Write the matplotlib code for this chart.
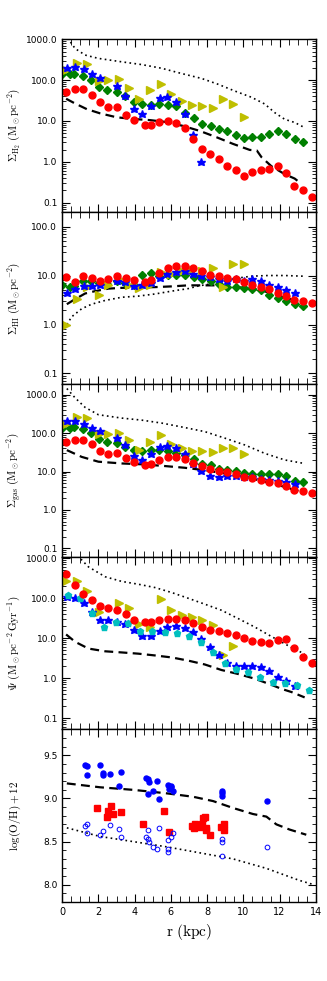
import numpy as np
import matplotlib
matplotlib.use('Agg')
import matplotlib.pyplot as plt
from matplotlib.ticker import MultipleLocator, FormatStrFormatter, LogLocator

plt.rcParams['mathtext.fontset'] = 'cm'
plt.rcParams['font.size'] = 6.5

nan = np.nan

# radial bins for each data set (kpc)
r_red = [0.24, 0.70, 1.16, 1.64, 2.09, 2.55, 3.03, 3.51, 3.96, 4.55, 4.88, 5.36, 5.82, 6.28, 6.76,
         7.24, 7.69, 8.17, 8.63, 9.11, 9.57, 10.02, 10.50, 10.96, 11.42, 11.89, 12.35, 12.81, 13.29, 13.77]
r_green = [0.02, 0.44, 0.68, 1.14, 1.60, 2.02, 2.49, 3.01, 3.49, 3.96, 4.42, 4.90, 5.36, 5.84, 6.29,
           6.76, 7.25, 7.71, 8.19, 8.65, 9.12, 9.58, 10.04, 10.50, 10.96, 11.44, 11.91, 12.37, 12.83, 13.29]
r_star = [0.26, 0.73, 1.19, 1.67, 2.07, 2.53, 3.01, 3.49, 3.96, 4.43, 4.92, 5.38, 5.79, 6.27, 6.76,
          7.22, 7.68, 8.16, 8.63, 9.11, 9.58, 10.04, 10.49, 10.96, 11.44, 11.91, 12.37, 12.85]
r_yel = [0.22, 0.84, 1.39, 2.02, 2.55, 3.12, 3.71, 4.26, 4.86, 5.43, 6.0, 6.59, 7.16, 7.73, 8.30,
         8.87, 9.44, 10.04]
r_cyan = [0.31, 0.99, 1.65, 2.31, 2.97, 3.63, 4.31, 4.97, 5.66, 6.32, 6.98, 7.64, 8.30, 8.96, 9.62,
          10.28, 10.94, 11.62, 12.28, 12.94, 13.62]

# Sigma_H2
h2_red = [52, 61, 59, 44, 28.5, 22.4, 21.9, 14.0, 10.6, 7.8, 7.8, 9.3, 9.8, 8.9, 6.6,
          3.6, 2.1, 1.57, 1.17, 0.80, 0.64, 0.46, 0.56, 0.63, 0.68, 0.79, 0.54, 0.255, 0.21, 0.138]
h2_green = [138, 143, 143, 127, 100, 67, 58, 52, 40, 28.6, 25.5, 24.2, 25.5, 25, 22.8,
            15.5, 11.8, 8.3, 7.6, 6.4, 5.7, 4.6, 3.9, 4.0, 4.0, 4.7, 5.6, 4.7, 3.6, 3.0]
h2_star = [200, 210, 186, 138, 110, nan, 72, 41.5, 19.5, 15.1, 23.4, 35.5, 37.8, 29, 15.1,
           4.6, 1.0, nan, nan, nan, nan, nan, nan, nan, nan, nan, nan, nan]
h2_yel = [175, 260, 242, 95, 102, 106, 63, 34, 57, 81, 45, 31, 24, 23, 21, 35, 26, 12.7]
h2_dash_r = [0.22, 0.70, 1.36, 2.09, 3.01, 3.93, 4.85, 5.77, 6.68, 7.60, 8.52, 9.43, 10.35, 10.74,
             11.0, 11.55, 12.28, 12.83, 13.2]
h2_dash = [35, 27, 19.5, 15.4, 12.3, 11.2, 10.5, 9.4, 7.55, 5.7, 4.0, 2.75, 1.96, 1.9,
           1.3, 0.78, 0.50, 0.39, 0.29]
h2_dot_r = [0.2, 0.35, 0.72, 1.27, 2.0, 3.29, 4.39, 5.49, 6.59, 7.69, 8.61, 9.53, 10.45, 11.18,
            11.73, 12.28, 12.83, 13.29]
h2_dot = [1400, 1000, 590, 410, 340, 280, 240, 195, 145, 110, 79, 54, 38, 26, 16, 11, 9.2, 7.2]

# Sigma_HI
hi_red = [9.2, 7.3, 9.7, 8.9, 7.6, 8.6, 9.7, 8.9, 8.1, 7.5, 8.2, 11.0, 14.1, 15.3, 15.5,
          14.1, 12.5, 10.4, 10.0, 8.9, 8.3, 7.5, 6.3, 5.8, 5.3, 4.3, 3.9, 3.2, 3.0, 2.8]
hi_green = [6.3, 5.7, 6.0, 7.6, 7.6, 7.0, 6.8, 7.9, 7.1, 6.3, 10.4, 11.4, 10.0, 10.4, 10.4,
            10.2, 9.5, 8.3, 7.6, 6.7, 5.9, 5.9, 5.6, 5.4, 5.1, 4.0, 3.4, 3.0, 2.6, 2.4]
hi_star = [4.5, 5.4, 6.0, 6.1, 6.5, nan, 7.6, 7.3, 6.1, 6.3, 7.1, 9.1, 10.7, 11.7, 12.5,
           10.9, 10.0, 9.2, 8.3, 7.9, 8.6, 7.9, 8.3, 7.6, 6.5, 5.9, 5.1, 4.5]
hi_yel = [1.0, 3.3, 5.7, 4.0, 6.3, 8.3, 6.3, 5.6, 6.5, 11.7, 10.9, 12.5, 12.7, 12.5, 14.1, 5.7, 17.0, 17.0]
hi_dash_r = [0.26, 0.72, 1.27, 1.82, 2.55, 3.29, 4.2, 5.12, 6.04, 6.95, 7.78, 8.6, 9.34, 10.08,
             10.99, 12.1, 12.83, 13.2]
hi_dash = [2.6, 3.3, 4.3, 4.8, 5.4, 5.6, 5.7, 5.8, 6.0, 6.3, 6.3, 6.3, 5.9, 5.6, 5.0, 3.7, 3.1, 2.8]
hi_dot_r = [0.26, 0.53, 1.08, 1.63, 2.37, 3.29, 4.2, 5.12, 6.04, 6.95, 7.5, 8.24, 8.97, 9.71,
            10.45, 11.36, 12.28, 13.29]
hi_dot = [1.0, 1.44, 2.1, 2.6, 3.1, 3.6, 3.8, 4.2, 4.8, 5.4, 6.1, 6.8, 7.9, 8.9, 9.7, 10, 10, 9.7]

# Sigma_gas
gas_red = [58, 66, 66, 51, 34, 29, 30, 22, 18, 14.7, 15.3, 19.5, 23.8, 23.8, 21,
           16.6, 14.1, 11.5, 10.2, 9.5, 8.7, 7.1, 6.6, 6.1, 5.4, 5.0, 4.1, 3.3, 3.1, 2.8]
gas_green = [134, 139, 143, 131, 101, 70, 60, 55, 44, 36, 34, 36, 36, 34, 30,
             27, 21, 15.3, 14.7, 11.6, 10.9, 10.2, 9.1, 8.7, 8.4, 8.4, 8.7, 7.7, 5.8, 5.2]
gas_star = [208, 200, 177, 139, 114, nan, 76, 49, 26, 20, 28, 44, 47, 40, 28,
            16, 10.2, 7.7, 7.3, 7.6, 7.6, 7.3, 7.0, 6.5, 5.9, 5.5, 5.3, 4.6]
gas_yel = [171, 255, 245, 94, 97, 101, 65, 37, 58, 90, 51, 40, 34, 34, 33, 40, 42, 28]
gas_dash_r = [0.26, 1.08, 2.0, 3.29, 4.39, 5.49, 6.77, 7.87, 8.97, 10.08, 11.18, 12.1, 13.01, 13.29]
gas_dash = [36, 24, 18, 16.2, 15.4, 14.1, 12.5, 10.8, 8.9, 7.3, 5.4, 4.2, 3.1, 2.7]
gas_dot_r = [0.26, 0.72, 1.27, 2.0, 3.29, 4.39, 5.49, 6.77, 7.87, 8.97, 10.08, 11.18, 12.28, 13.29]
gas_dot = [1440, 820, 465, 300, 245, 217, 182, 139, 109, 74, 49, 29.6, 20, 16.4]

# star formation rate
sfr_red = [403, 209, 126, 89, 65, 58, 50, 40, 29, 25, 26, 29, 30, 30, 29,
           23.9, 18.9, 16.2, 15, 13.7, 11.9, 10, 8.7, 7.9, 7.7, 9.1, 9.4, 5.8, 3.3, 2.4]
sfr_star = [110, 100, 76, 45, 29, 29, 26, 23, 15.6, 11.2, 11.2, 15, 19, 20.5, 18,
            14, 9.5, 5.9, 3.8, 2.45, 1.97, 1.97, 2.0, 1.95, 1.5, 1.08, 0.86, 0.65]
sfr_yel = [263, 263, 152, 46, nan, 74, 57, 23, 19.5, 93, 50, 39, 33, 28, 21, 3.7, 6.5, nan]
sfr_cyan = [117, 101, 43, 19, 26, 23.5, 15.2, 15.5, 14.5, 13.4, 11.5, 8.1, 4.4, 2.44, 1.7,
            1.43, 1.08, 0.81, 0.77, 0.68, 0.52]
sfr_dash_r = [0.22, 0.72, 1.45, 2.37, 3.29, 4.2, 5.12, 6.04, 6.95, 7.87, 8.79, 9.71, 10.63,
              11.55, 12.1, 12.65, 13.38]
sfr_dash = [12.4, 8.1, 5.5, 4.7, 4.4, 4.1, 3.7, 3.3, 2.75, 2.2, 1.6, 1.27, 0.97, 0.68, 0.54, 0.45, 0.33]
sfr_dot_r = [0.7, 0.99, 1.45, 2.37, 3.29, 4.2, 5.12, 6.04, 6.95, 7.87, 8.79, 9.71, 10.63, 11.55,
             12.47, 13.38]
sfr_dot = [1500, 1000, 610, 345, 263, 224, 185, 139, 100, 71, 50, 31, 19, 11, 6.5, 4.0]

# metallicity
oh_fill_r = [1.25, 1.39, 1.39, 2.11, 2.24, 2.24, 2.64, 3.23, 3.12, 4.61, 4.72, 4.77, 4.73, 4.99,
             5.23, 5.36, 5.85, 6.0, 5.87, 5.98, 6.09, 8.84, 8.84, 8.84, 11.32]
oh_fill = [9.39, 9.38, 9.27, 9.39, 9.30, 9.27, 9.28, 9.31, 9.14, 9.24, 9.23, 9.19, 9.05, 9.09,
           9.20, 8.99, 9.16, 9.15, 9.11, 9.13, 9.09, 9.09, 9.06, 9.03, 8.97]
oh_sq_r = [1.94, 2.50, 2.55, 2.68, 2.79, 3.23, 4.48, 5.61, 5.91, 7.14, 7.25, 7.32, 7.54, 7.69,
           7.78, 7.91, 7.96, 7.96, 8.18, 8.79, 8.94, 8.94]
oh_sq = [8.89, 8.79, 8.86, 8.91, 8.82, 8.84, 8.70, 8.85, 8.61, 8.68, 8.66, 8.70, 8.67, 8.70,
         8.77, 8.79, 8.66, 8.64, 8.58, 8.67, 8.70, 8.64]
oh_open_r = [1.25, 1.39, 1.39, 2.11, 2.24, 2.64, 3.12, 3.23, 4.61, 4.72, 4.72, 4.77, 4.99, 5.23,
             5.36, 5.85, 5.85, 5.85, 6.0, 6.09, 8.84, 8.84, 8.84, 11.32]
oh_open = [8.68, 8.71, 8.60, 8.58, 8.62, 8.69, 8.65, 8.55, 8.55, 8.64, 8.53, 8.49, 8.44, 8.41,
           8.66, 8.52, 8.41, 8.38, 8.55, 8.60, 8.53, 8.50, 8.33, 8.44]
oh_dash_r = [0.26, 2.09, 3.93, 5.76, 7.23, 8.33, 9.43, 10.53, 11.27, 11.82, 12.55, 13.47]
oh_dash = [9.175, 9.13, 9.10, 9.06, 9.02, 8.97, 8.89, 8.82, 8.79, 8.70, 8.64, 8.58]
oh_dot_r = [0.26, 2.09, 3.93, 5.76, 7.6, 9.43, 11.27, 12.18, 13.1, 13.9]
oh_dot = [8.66, 8.56, 8.50, 8.44, 8.37, 8.30, 8.19, 8.12, 8.05, 8.0]

fig, axes = plt.subplots(5, 1, figsize=(3.27, 9.81), dpi=100, sharex=True)
fig.subplots_adjust(left=0.19, right=0.966, top=0.960, bottom=0.0805, hspace=0)

dash_kw = dict(color='k', ls=(0, (4, 2.4)), lw=1.6)
dot_kw = dict(color='k', ls=(0, (1, 2.0)), lw=1.2)
ms_red = 5.0
ms_star = 6.2
ms_tri = 5.5
ms_dia = 3.6


def model_lines(ax, rd, vd, rt, vt):
    ax.plot(rd, vd, **dash_kw)
    ax.plot(rt, vt, **dot_kw)


# panel 1
ax = axes[0]
model_lines(ax, h2_dash_r, h2_dash, h2_dot_r, h2_dot)
ax.plot(r_green, h2_green, 'gD', ms=ms_dia, mec='g', ls='none')
ax.plot(r_yel, h2_yel, 'y>', ms=ms_tri, ls='none')
ax.plot(r_star, h2_star, 'b*', ms=ms_star, ls='none')
ax.plot(r_red, h2_red, 'ro', ms=ms_red, ls='none')
ax.set_ylim(0.06, 1000)
ax.set_ylabel(r'$\Sigma_{\rm H_2}\ ({\rm M_\odot pc^{-2}})$', fontsize=8)

# panel 2
ax = axes[1]
model_lines(ax, hi_dash_r, hi_dash, hi_dot_r, hi_dot)
ax.plot(r_green, hi_green, 'gD', ms=ms_dia, mec='g', ls='none')
ax.plot(r_yel, hi_yel, 'y>', ms=ms_tri, ls='none')
ax.plot(r_star, hi_star, 'b*', ms=ms_star, ls='none')
ax.plot(r_red, hi_red, 'ro', ms=ms_red, ls='none')
ax.set_ylim(0.06, 200)
ax.set_ylabel(r'$\Sigma_{\rm HI}\ ({\rm M_\odot pc^{-2}})$', fontsize=8)

# panel 3
ax = axes[2]
model_lines(ax, gas_dash_r, gas_dash, gas_dot_r, gas_dot)
ax.plot(r_green, gas_green, 'gD', ms=ms_dia, mec='g', ls='none')
ax.plot(r_yel, gas_yel, 'y>', ms=ms_tri, ls='none')
ax.plot(r_star, gas_star, 'b*', ms=ms_star, ls='none')
ax.plot(r_red, gas_red, 'ro', ms=ms_red, ls='none')
ax.set_ylim(0.06, 1850)
ax.set_ylabel(r'$\Sigma_{\rm gas}\ ({\rm M_\odot pc^{-2}})$', fontsize=8)

# panel 4
ax = axes[3]
model_lines(ax, sfr_dash_r, sfr_dash, sfr_dot_r, sfr_dot)
ax.plot(r_yel, sfr_yel, 'y>', ms=ms_tri, ls='none')
ax.plot(r_star, sfr_star, 'b*', ms=ms_star, ls='none')
ax.plot(r_cyan, sfr_cyan, 'cp', ms=5, ls='none')
ax.plot(r_red, sfr_red, 'ro', ms=ms_red, ls='none')
ax.set_ylim(0.052, 1080)
ax.set_ylabel(r'$\Psi\ ({\rm M_\odot pc^{-2}\,Gyr^{-1}})$', fontsize=8)

for ax in axes[:4]:
    ax.set_yscale('log')
    ax.yaxis.set_major_locator(LogLocator(base=10))
    ax.yaxis.set_minor_locator(LogLocator(base=10, subs=np.arange(2, 10) * 0.1 * 10, numticks=20))
    ax.yaxis.set_major_formatter(FormatStrFormatter('%.1f'))

# panel 5
ax = axes[4]
model_lines(ax, oh_dash_r, oh_dash, oh_dot_r, oh_dot)
ax.plot(oh_fill_r, oh_fill, 'bo', ms=3.6, ls='none')
ax.plot(oh_sq_r, oh_sq, 'rs', ms=4.4, ls='none')
ax.plot(oh_open_r, oh_open, 'o', ms=3.4, mfc='none', mec='b', mew=0.7, ls='none')
ax.set_ylim(7.8, 9.8)
ax.yaxis.set_major_locator(MultipleLocator(0.5))
ax.yaxis.set_minor_locator(MultipleLocator(0.1))
ax.yaxis.set_major_formatter(FormatStrFormatter('%.1f'))
ax.set_ylabel(r'$\log({\rm O/H})+12$', fontsize=8)
ax.set_xlabel(r'$\rm r\ (kpc)$', fontsize=11)

for ax in axes:
    ax.set_xlim(0, 14)
    ax.xaxis.set_major_locator(MultipleLocator(2))
    ax.xaxis.set_minor_locator(MultipleLocator(0.5))
    ax.tick_params(which='both', direction='in', top=True, right=True, labelsize=6.5)
    ax.tick_params(which='major', length=5.5, width=0.8)
    ax.tick_params(which='minor', length=3, width=0.6)
    ax.tick_params(axis='x', which='minor', length=4)
    ax.tick_params(axis='x', labelsize=7)
    for s in ax.spines.values():
        s.set_linewidth(1.0)
    ax.yaxis.set_label_coords(-0.155, 0.5)

plt.savefig('out.png', dpi=100)
